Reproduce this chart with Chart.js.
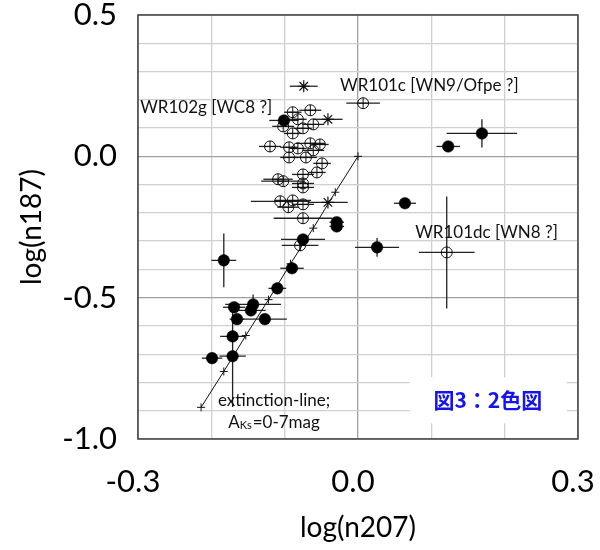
<!DOCTYPE html>
<html>
<head>
<meta charset="utf-8">
<script src="https://cdn.jsdelivr.net/npm/chart.js@4/dist/chart.umd.min.js"></script>
<style>
  html, body { margin: 0; padding: 0; background: #fff; }
  canvas { display: block; }
</style>
</head>
<body>
<canvas id="c" width="600" height="550"></canvas>
<script>
// ── DATA ─────────────────────────────────────────────────────────────────────
// open circles with cross (⊕)
const openX    = [-0.089,-0.065,-0.082,-0.061,-0.102,-0.075,-0.089,-0.120,-0.094,-0.082,-0.065,-0.052,-0.061,-0.094,-0.071,-0.049,-0.056,-0.075,-0.109,-0.102,-0.075,-0.075,-0.106,-0.089,-0.095,-0.075,-0.075,-0.079, 0.007, 0.121];
const openY    = [ 0.156, 0.163, 0.131, 0.113, 0.106, 0.099, 0.081, 0.035, 0.032, 0.028, 0.046, 0.042, 0.021,-0.004,-0.004,-0.025,-0.057,-0.064,-0.081,-0.088,-0.096,-0.110,-0.159,-0.156,-0.180,-0.170,-0.219,-0.315, 0.188,-0.340];
const openXErr = [ 0.012, 0.015, 0.012, 0.015, 0.015, 0.012, 0.012, 0.015, 0.012, 0.012, 0.020, 0.012, 0.015, 0.012, 0.015, 0.012, 0.012, 0.015, 0.020, 0.030, 0.015, 0.015, 0.040, 0.025, 0.015, 0.015, 0.040, 0.025, 0.023, 0.038];
const openYErr = [ 0, 0, 0, 0, 0, 0, 0, 0, 0, 0, 0, 0, 0, 0, 0, 0, 0, 0, 0, 0, 0, 0, 0, 0, 0, 0, 0, 0.02, 0, 0.198];

// filled circles
const filledX    = [-0.101, 0.169, 0.123, 0.064, 0.026,-0.029,-0.029,-0.075,-0.183,-0.090,-0.110,-0.169,-0.143,-0.146,-0.165,-0.127,-0.171,-0.171,-0.199];
const filledY    = [ 0.127, 0.081, 0.035,-0.166,-0.322,-0.233,-0.248,-0.294,-0.368,-0.396,-0.467,-0.534,-0.524,-0.545,-0.576,-0.576,-0.637,-0.707,-0.714];
const filledXErr = [ 0.020, 0.048, 0.016, 0.015, 0.030, 0.010, 0.010, 0.030, 0.017, 0.016, 0.012, 0.015, 0.038, 0.020, 0.010, 0.030, 0.017, 0.018, 0.014];
const filledYErr = [ 0,     0.050, 0,     0,     0.033, 0,     0,     0,     0.095, 0,     0,     0,     0.035, 0,     0,     0,     0,     0.180, 0    ];

// asterisks
const starX    = [-0.074,-0.041,-0.041];
const starY    = [ 0.248, 0.131,-0.163];
const starXErr = [ 0.019, 0.020, 0.027];

// extinction line, A_Ks = 0..7 mag
const extX = [-0.214,-0.183,-0.153,-0.122,-0.092,-0.061,-0.031, 0.000];
const extY = [-0.888,-0.761,-0.634,-0.507,-0.380,-0.254,-0.127, 0.000];

// labelled ticks
const xTickLabels = [-0.3, 0.0, 0.3];
const yTickLabels = [-1.0, -0.5, 0.0, 0.5];

// ── HELPERS ──────────────────────────────────────────────────────────────────
const FONT = 'Lato, "Open Sans", sans-serif';
const pts = (xs, ys) => xs.map((x, i) => ({ x, y: ys[i] }));
const near = (v, list) => list.some(t => Math.abs(t - v) < 1e-6);
const fmt = v => (Math.round(v * 10) / 10).toFixed(1);

// ── PLUGINS ──────────────────────────────────────────────────────────────────
const errorBars = {
  id: 'errorBars',
  beforeDatasetsDraw(chart) {
    const { ctx, scales: { x, y } } = chart;
    ctx.save();
    ctx.strokeStyle = '#222';
    ctx.lineWidth = 1.3;
    chart.data.datasets.forEach(ds => {
      if (!ds.errX) return;
      ds.data.forEach((p, i) => {
        const px = x.getPixelForValue(p.x), py = y.getPixelForValue(p.y);
        const ex = ds.errX[i] || 0, ey = (ds.errY && ds.errY[i]) || 0;
        ctx.beginPath();
        if (ex) {
          ctx.moveTo(x.getPixelForValue(p.x - ex), py);
          ctx.lineTo(x.getPixelForValue(p.x + ex), py);
        }
        if (ey) {
          ctx.moveTo(px, y.getPixelForValue(p.y - ey));
          ctx.lineTo(px, y.getPixelForValue(p.y + ey));
        }
        ctx.stroke();
      });
    });
    ctx.restore();
  }
};

const frameAndText = {
  id: 'frameAndText',
  afterDraw(chart) {
    const { ctx, chartArea: a, scales: { x, y } } = chart;
    ctx.save();
    // plot frame
    ctx.strokeStyle = '#444';
    ctx.lineWidth = 1.5;
    ctx.strokeRect(a.left, a.top, a.right - a.left, a.bottom - a.top);

    // annotations
    ctx.fillStyle = '#111';
    ctx.textBaseline = 'middle';
    ctx.textAlign = 'left';
    ctx.font = '17px ' + FONT;
    ctx.fillText('WR101c [WN9/Ofpe ?]', x.getPixelForValue(-0.0245), y.getPixelForValue(0.251));
    ctx.fillText('WR102g [WC8 ?]', x.getPixelForValue(-0.297), y.getPixelForValue(0.173));
    ctx.fillText('WR101dc [WN8 ?]', x.getPixelForValue(0.078), y.getPixelForValue(-0.269));
    ctx.fillText('extinction-line;', x.getPixelForValue(-0.191), y.getPixelForValue(-0.863));

    // A_Ks=0-7mag with subscript
    let tx = x.getPixelForValue(-0.177);
    const ty = y.getPixelForValue(-0.941);
    ctx.fillText('A', tx, ty);
    tx += ctx.measureText('A').width;
    ctx.font = '11px ' + FONT;
    ctx.fillText('Ks', tx, ty + 3);
    tx += ctx.measureText('Ks').width + 1;
    ctx.font = '17px ' + FONT;
    ctx.fillText('=0-7mag', tx, ty);

    // figure label on white box
    const cx = x.getPixelForValue(0.177), cy = y.getPixelForValue(-0.863);
    ctx.fillStyle = '#fff';
    ctx.fillRect(cx - 78, cy - 23, 157, 46);
    ctx.fillStyle = '#1414ee';
    ctx.textAlign = 'center';
    ctx.font = 'bold 21px "Noto Sans CJK JP", sans-serif';
    ctx.fillText('図3：2色図', cx, cy);
    ctx.restore();
  }
};

// ── CHART ────────────────────────────────────────────────────────────────────
const openPts = pts(openX, openY);

new Chart(document.getElementById('c'), {
  type: 'scatter',
  data: {
    datasets: [
      { data: pts(filledX, filledY), errX: filledXErr, errY: filledYErr,
        pointStyle: 'circle', radius: 5.8, backgroundColor: '#000', borderColor: '#000', borderWidth: 0.5 },
      { data: pts(starX, starY), errX: starXErr,
        pointStyle: 'star', radius: 6, borderColor: '#111', borderWidth: 1.2 },
      { data: openPts, pointStyle: 'cross', radius: 5.5, borderColor: '#111', borderWidth: 1 },
      { data: openPts, errX: openXErr, errY: openYErr,
        pointStyle: 'circle', radius: 5.5, backgroundColor: 'rgba(0,0,0,0)', borderColor: '#111', borderWidth: 1 },
      { data: pts(extX, extY), showLine: true, borderColor: '#111', borderWidth: 1,
        pointStyle: 'cross', radius: 4, pointBorderWidth: 1 },
    ]
  },
  options: {
    responsive: false,
    animation: false,
    layout: { padding: { left: 0, right: 22, top: 15, bottom: 0 } },
    plugins: { legend: { display: false }, tooltip: { enabled: false } },
    scales: {
      x: {
        type: 'linear', min: -0.3, max: 0.3,
        border: { display: false },
        grid: {
          drawTicks: false,
          color: c => near(c.tick.value, xTickLabels) ? '#a0a0a0' : '#d0d0d0',
          lineWidth: 1.3,
        },
        ticks: {
          stepSize: 0.1, autoSkip: false, maxRotation: 0, padding: 24, labelOffset: -5, color: '#000',
          font: { family: FONT, size: 31 },
          callback: v => near(v, xTickLabels) ? fmt(v) : '',
        },
        title: { display: true, text: 'log(n207)', color: '#000',
          font: { family: FONT, size: 28 }, padding: { top: 0, bottom: 5 } },
        afterFit(s) { s.height = 111; s.paddingLeft = 0; s.paddingRight = 0; },
      },
      y: {
        type: 'linear', min: -1.0, max: 0.5,
        border: { display: false },
        grid: {
          drawTicks: false,
          color: c => near(c.tick.value, yTickLabels) ? '#a0a0a0' : '#d0d0d0',
          lineWidth: 1.3,
        },
        ticks: {
          stepSize: 0.1, autoSkip: false, padding: 21, color: '#000',
          font: { family: FONT, size: 31 },
          callback: v => near(v, yTickLabels) ? fmt(v) : '',
        },
        title: { display: true, text: 'log(n187)', color: '#000',
          font: { family: FONT, size: 28 }, padding: { top: 15, bottom: 0 } },
        afterFit(s) { s.width = 138; s.paddingTop = 0; s.paddingBottom = 0; },
      }
    }
  },
  plugins: [errorBars, frameAndText]
});
</script>
</body>
</html>
